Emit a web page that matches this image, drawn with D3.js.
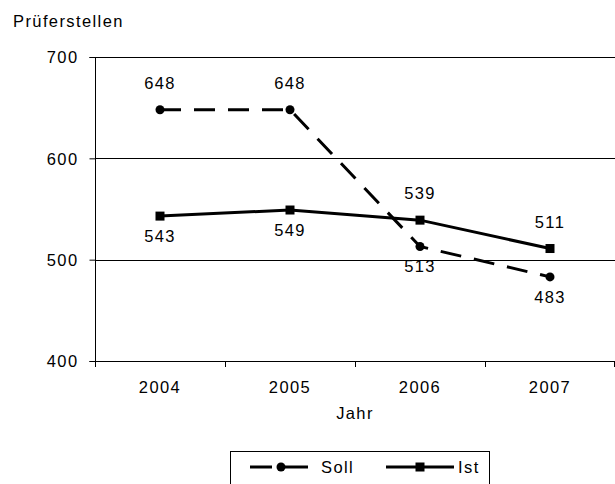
<!DOCTYPE html>
<html><head><meta charset="utf-8">
<script src="https://cdn.jsdelivr.net/npm/d3@7"></script>
<style>
body{margin:0;background:#fff;}
text{font-family:"Liberation Sans",Arial,sans-serif;font-size:16.5px;fill:#000;letter-spacing:1.4px;}
</style></head>
<body><svg id="c" width="615" height="484"></svg>
<script>
const years = ["2004","2005","2006","2007"];
const soll = [648, 648, 513, 483];
const ist = [543, 549, 539, 511];
const yTicks = [400, 500, 600, 700];
const sollLabelPos = ["above","above","below","below"];
const istLabelPos = ["below","below","above","above"];

const svg = d3.select("#c");
const L = 95, R = 615, T = 57, B = 361;
const x = d3.scaleBand().domain(years).range([L, R]);
const y = d3.scaleLinear().domain([400, 700]).range([B, T]);
const cx = d => x(d) + x.bandwidth()/2;

// gridlines
svg.append("g").selectAll("line").data(yTicks.filter(t=>t>400)).join("line")
  .attr("x1", L).attr("x2", R).attr("y1", d=>Math.round(y(d))+0.5).attr("y2", d=>Math.round(y(d))+0.5)
  .attr("stroke", "#000").attr("stroke-width", 1);

// y axis
const ya = svg.append("g").attr("transform", `translate(${L+0.5},0)`)
  .call(d3.axisLeft(y).tickValues(yTicks).tickSize(6).tickPadding(11).tickFormat(d3.format("d")));
ya.select(".domain").attr("stroke","#000").attr("d", `M-6,${Math.round(T)+0.5}H0V${B+0.5}H-6`);
ya.selectAll(".tick line").attr("stroke","#000");
ya.selectAll("text").attr("font-family",null).attr("dy","0.36em");

// x axis
const xa = svg.append("g").attr("transform", `translate(0,${B+0.5})`)
  .call(d3.axisBottom(x).tickSize(0).tickPadding(20));
xa.select(".domain").attr("stroke","#000").attr("d", `M${L},0H${R}`);
xa.selectAll("text").attr("font-family",null);
svg.append("g").selectAll("line").data(years.concat(["end"])).join("line")
  .attr("x1", (d,i)=> i<4 ? x(d)+0.5 : R-0.5).attr("x2",(d,i)=> i<4 ? x(d)+0.5 : R-0.5)
  .attr("y1", B).attr("y2", B+6).attr("stroke","#000");

// titles
svg.append("text").attr("x", 13).attr("y", 27).text("Prüferstellen");
svg.append("text").attr("x", (L+R)/2).attr("y", 419).attr("text-anchor","middle").text("Jahr");

// lines
const line = d3.line().x((d,i)=>cx(years[i])).y(d=>y(d));
svg.append("path").datum(soll).attr("d", line).attr("fill","none")
  .attr("stroke","#000").attr("stroke-width",3).attr("stroke-dasharray","21,13");
svg.append("path").datum(ist).attr("d", line).attr("fill","none")
  .attr("stroke","#000").attr("stroke-width",3);

// markers
svg.append("g").selectAll("circle").data(soll).join("circle")
  .attr("cx",(d,i)=>cx(years[i])).attr("cy",d=>y(d)).attr("r",4.5).attr("fill","#000");
svg.append("g").selectAll("rect").data(ist).join("rect")
  .attr("x",(d,i)=>cx(years[i])-4.5).attr("y",d=>y(d)-4.5).attr("width",9).attr("height",9).attr("fill","#000");

// labels
svg.append("g").selectAll("text").data(soll).join("text")
  .attr("x",(d,i)=>cx(years[i])).attr("y",(d,i)=> sollLabelPos[i]==="above" ? y(d)-21 : y(d)+26)
  .attr("text-anchor","middle").text(d=>d);
svg.append("g").selectAll("text").data(ist).join("text")
  .attr("x",(d,i)=>cx(years[i])).attr("y",(d,i)=> istLabelPos[i]==="above" ? y(d)-21 : y(d)+26)
  .attr("text-anchor","middle").text(d=>d);

// legend
const lg = svg.append("g");
lg.append("rect").attr("x",230.5).attr("y",451.5).attr("width",259).attr("height",40)
  .attr("fill","#fff").attr("stroke","#000").attr("stroke-width",1);
const ly = 467;
lg.append("line").attr("x1",250).attr("x2",272).attr("y1",ly).attr("y2",ly).attr("stroke","#000").attr("stroke-width",3);
lg.append("line").attr("x1",284).attr("x2",308).attr("y1",ly).attr("y2",ly).attr("stroke","#000").attr("stroke-width",3);
lg.append("circle").attr("cx",281).attr("cy",ly).attr("r",4.5).attr("fill","#000");
lg.append("text").attr("x",321).attr("y",ly+6).text("Soll");
lg.append("line").attr("x1",386).attr("x2",454).attr("y1",ly).attr("y2",ly).attr("stroke","#000").attr("stroke-width",3);
lg.append("rect").attr("x",420-4.5).attr("y",ly-4.5).attr("width",9).attr("height",9).attr("fill","#000");
lg.append("text").attr("x",458).attr("y",ly+6).text("Ist");
</script></body></html>
